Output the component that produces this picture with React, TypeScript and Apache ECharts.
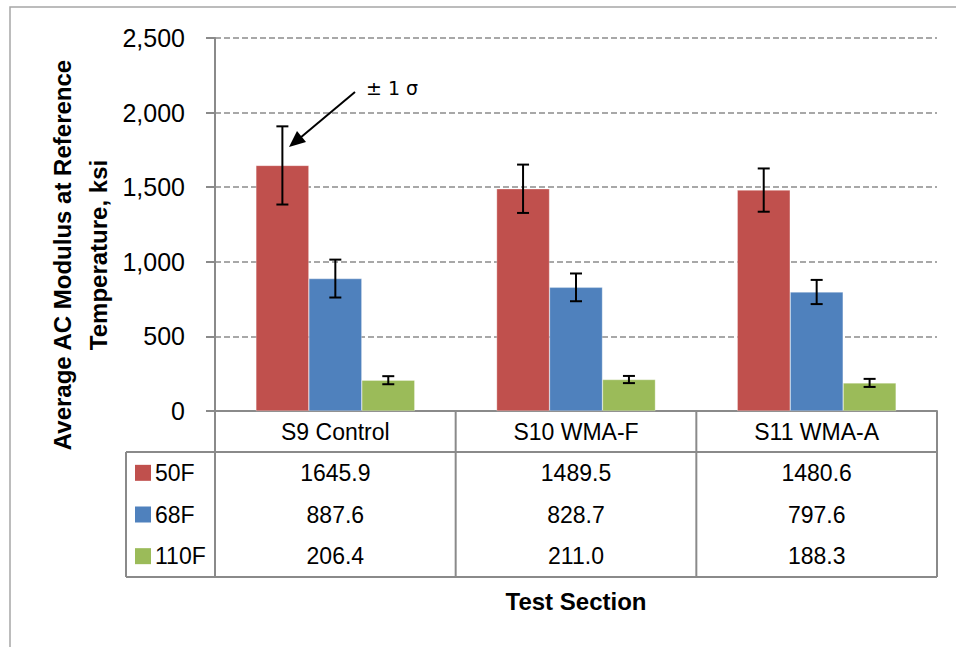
import React, { useEffect, useRef } from "react";
import * as echarts from "echarts";

const categories = ["S9 Control", "S10 WMA-F", "S11 WMA-A"];
const seriesNames = ["50F", "68F", "110F"];
const values50F = [1645.9, 1489.5, 1480.6];
const values68F = [887.6, 828.7, 797.6];
const values110F = [206.4, 211.0, 188.3];
const sd50F = [262, 162, 145];
const sd68F = [127, 93, 81];
const sd110F = [27, 24, 27];
const yTicks = [0, 500, 1000, 1500, 2000, 2500];
const colors = ["#C0504D", "#4F81BD", "#9BBB59"];

const W = 956;
const H = 647;
const GL = 215;
const GR = 937;
const GT = 38;
const GB = 411;
const TABLE_BOTTOM = 577;
const ROW_TOP = 452;
const LEG_LEFT = 126;
const CAT_GAP = 0.34;
const LINE_C = "#8a8a8a";

export default function App() {
  const ref = useRef<HTMLDivElement>(null);
  useEffect(() => {
    if (!ref.current) return;
    const chart = echarts.init(ref.current, null, { renderer: "svg" });
    const allValues = [values50F, values68F, values110F];
    const allSd = [sd50F, sd68F, sd110F];
    const catW = (GR - GL) / categories.length;
    const rowH = (TABLE_BOTTOM - ROW_TOP) / 3;

    const graphics: any[] = [];
    graphics.push({
      type: "rect",
      shape: { x: 10, y: 7, width: 960, height: 660 },
      style: { fill: "none", stroke: "#a6a6a6", lineWidth: 1.5 },
      silent: true,
    });
    const line = (x1: number, y1: number, x2: number, y2: number) => ({
      type: "line",
      shape: { x1, y1, x2, y2 },
      style: { stroke: LINE_C, lineWidth: 2 },
      z: 10,
    });
    graphics.push(line(LEG_LEFT, ROW_TOP, GR, ROW_TOP));
    graphics.push(line(LEG_LEFT, TABLE_BOTTOM, GR, TABLE_BOTTOM));
    graphics.push(line(LEG_LEFT, ROW_TOP, LEG_LEFT, TABLE_BOTTOM));
    graphics.push(line(GL, GB, GL, TABLE_BOTTOM));
    for (let i = 1; i <= categories.length; i++) {
      const x = GL + catW * i;
      graphics.push(line(x, GB, x, TABLE_BOTTOM));
    }
    for (let s = 0; s < 3; s++) {
      const cy = ROW_TOP + rowH * (s + 0.5);
      graphics.push({
        type: "rect",
        shape: { x: 135, y: cy - 8, width: 16, height: 16 },
        style: { fill: colors[s] },
      });
      graphics.push({
        type: "text",
        x: 155,
        y: cy,
        style: {
          text: seriesNames[s],
          font: "23px 'Liberation Sans', Arial, sans-serif",
          fill: "#000",
          textAlign: "left",
          textVerticalAlign: "middle",
        },
      });
      for (let c = 0; c < categories.length; c++) {
        graphics.push({
          type: "text",
          x: GL + catW * (c + 0.5),
          y: cy,
          style: {
            text: allValues[s][c].toFixed(1),
            font: "23px 'Liberation Sans', Arial, sans-serif",
            fill: "#000",
            textAlign: "center",
            textVerticalAlign: "middle",
          },
        });
      }
    }
    graphics.push({
      type: "text",
      x: 80,
      y: 255,
      rotation: Math.PI / 2,
      style: {
        text: "Average AC Modulus at Reference\nTemperature, ksi",
        font: "bold 24px 'Liberation Sans', Arial, sans-serif",
        fill: "#000",
        textAlign: "center",
        textVerticalAlign: "middle",
        lineHeight: 36,
      },
    });
    graphics.push({
      type: "text",
      x: 576,
      y: 601,
      style: {
        text: "Test Section",
        font: "bold 24px 'Liberation Sans', Arial, sans-serif",
        fill: "#000",
        textAlign: "center",
        textVerticalAlign: "middle",
      },
    });
    graphics.push({
      type: "text",
      x: 366,
      y: 88,
      style: {
        text: "± 1 σ",
        font: "19px 'DejaVu Sans', sans-serif",
        fill: "#000",
        textAlign: "left",
        textVerticalAlign: "middle",
      },
    });
    graphics.push({
      type: "line",
      shape: { x1: 355, y1: 92, x2: 300, y2: 138 },
      style: { stroke: "#000", lineWidth: 2 },
      z: 20,
    });
    graphics.push({
      type: "polygon",
      shape: { points: [[289, 147], [306, 142], [297, 131]] },
      style: { fill: "#000" },
      z: 20,
    });

    const barSeries = seriesNames.map((name, s) => ({
      name,
      type: "bar",
      data: allValues[s],
      barGap: "0%",
      barCategoryGap: CAT_GAP * 100 + "%",
      itemStyle: { color: colors[s], borderColor: "rgba(255,255,255,0.6)", borderWidth: 0.5 },
      z: 2,
    }));

    const errSeries = seriesNames.map((name, s) => ({
      name: name + " err",
      type: "custom",
      z: 5,
      encode: { x: 0, y: [1, 2] },
      data: categories.map((_, c) => [c, allValues[s][c] - allSd[s][c], allValues[s][c] + allSd[s][c]]),
      renderItem: (params: any, api: any) => {
        const ci = api.value(0);
        const lo = api.coord([ci, api.value(1)]);
        const hi = api.coord([ci, api.value(2)]);
        const bandW = api.size([1, 0])[0];
        const barW = (bandW * (1 - CAT_GAP)) / 3;
        const x = lo[0] + (s - 1) * barW;
        const cap = 6;
        const st = { stroke: "#000", lineWidth: 2 };
        return {
          type: "group",
          children: [
            { type: "line", shape: { x1: x, y1: lo[1], x2: x, y2: hi[1] }, style: st },
            { type: "line", shape: { x1: x - cap, y1: lo[1], x2: x + cap, y2: lo[1] }, style: st },
            { type: "line", shape: { x1: x - cap, y1: hi[1], x2: x + cap, y2: hi[1] }, style: st },
          ],
        };
      },
    }));

    chart.setOption({
      animation: false,
      backgroundColor: "#fff",
      grid: { left: GL, right: W - GR, top: GT, bottom: H - GB, containLabel: false },
      xAxis: {
        type: "category",
        data: categories,
        axisLine: { show: true, lineStyle: { color: LINE_C, width: 2 } },
        axisTick: { show: false },
        axisLabel: {
          margin: 9,
          fontSize: 23,
          color: "#000",
          fontFamily: "'Liberation Sans', Arial, sans-serif",
        },
      },
      yAxis: {
        type: "value",
        min: yTicks[0],
        max: yTicks[yTicks.length - 1],
        interval: yTicks[1] - yTicks[0],
        axisLine: { show: true, lineStyle: { color: LINE_C, width: 2 } },
        axisTick: { show: true, length: 9, lineStyle: { color: LINE_C, width: 2 } },
        axisLabel: {
          margin: 30,
          fontSize: 25,
          color: "#000",
          fontFamily: "'Liberation Sans', Arial, sans-serif",
          formatter: (v: number) => v.toLocaleString("en-US"),
        },
        splitLine: { show: true, lineStyle: { color: "#8c8c8c", width: 1.5, type: [6, 3] } },
      },
      series: [...barSeries, ...errSeries],
      graphic: graphics,
    });
    return () => chart.dispose();
  }, []);
  return (
    <div
      ref={ref}
      style={{ position: "fixed", left: 0, top: 0, width: W, height: H, background: "#fff" }}
    />
  );
}
